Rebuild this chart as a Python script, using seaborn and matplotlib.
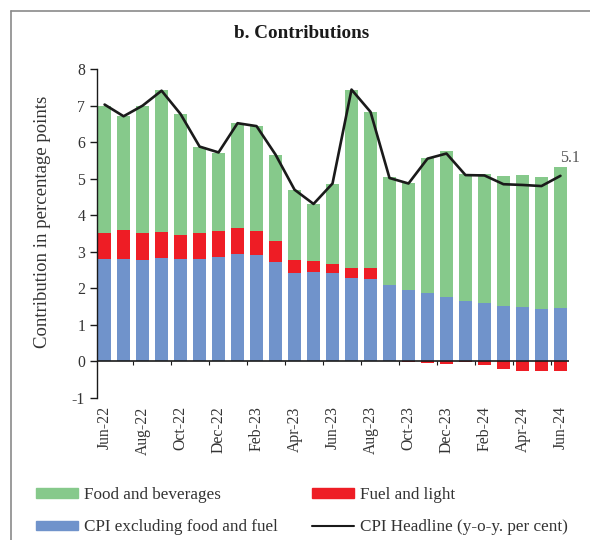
import matplotlib
matplotlib.use('Agg')
import matplotlib.pyplot as plt
from matplotlib.lines import Line2D
from matplotlib.patches import Patch
import numpy as np
import pandas as pd
import seaborn as sns

# Months shown on the x axis
months = ['Jun-22', 'Jul-22', 'Aug-22', 'Sep-22', 'Oct-22', 'Nov-22', 'Dec-22',
          'Jan-23', 'Feb-23', 'Mar-23', 'Apr-23', 'May-23', 'Jun-23', 'Jul-23',
          'Aug-23', 'Sep-23', 'Oct-23', 'Nov-23', 'Dec-23', 'Jan-24', 'Feb-24',
          'Mar-24', 'Apr-24', 'May-24', 'Jun-24']

# Contributions in percentage points
core = [2.81, 2.80, 2.77, 2.83, 2.79, 2.80, 2.86, 2.94, 2.90, 2.72, 2.42, 2.44, 2.41,
        2.28, 2.26, 2.08, 1.96, 1.88, 1.77, 1.66, 1.59, 1.52, 1.50, 1.44, 1.46]
fuel = [0.70, 0.80, 0.74, 0.70, 0.67, 0.71, 0.72, 0.71, 0.66, 0.58, 0.36, 0.32, 0.27,
        0.27, 0.30, 0.00, -0.02, -0.05, -0.06, -0.01, -0.09, -0.21, -0.27, -0.25, -0.25]
food = [3.49, 3.11, 3.49, 3.89, 3.31, 2.36, 2.12, 2.87, 2.87, 2.34, 1.92, 1.55, 2.17,
        4.89, 4.26, 2.96, 2.92, 3.70, 4.00, 3.48, 3.54, 3.56, 3.59, 3.61, 3.86]
headline = [7.03, 6.71, 7.00, 7.41, 6.77, 5.88, 5.72, 6.52, 6.44, 5.66, 4.70, 4.31, 4.87,
            7.44, 6.83, 5.02, 4.87, 5.55, 5.69, 5.10, 5.09, 4.85, 4.83, 4.80, 5.08]

df = pd.DataFrame({'month': months, 'core': core, 'fuel': fuel,
                   'food': food, 'headline': headline})
df['pos'] = np.arange(len(df))

# Stacking like Excel: positives on top of each other, negatives below zero
fuel_bottom = np.where(df['fuel'] > 0, df['core'], 0)
food_bottom = df['core'] + df['fuel'].clip(lower=0)

green = '#86C98B'
red = '#EE1D25'
blue = '#7093CB'
ink = '#1a1a1a'
txt = '#333333'

sns.set_style('white')
plt.rcParams['font.family'] = ['Liberation Serif', 'DejaVu Serif']
plt.rcParams['axes.unicode_minus'] = False

fig = plt.figure(figsize=(5.9, 5.4), dpi=100)
ax = fig.add_axes([0.1644, 0.263, 0.80, 0.609])

sns.barplot(data=df, x='month', y='core', color=blue, width=0.72,
            saturation=1, ax=ax, linewidth=0)
sns.barplot(data=df, x='month', y='fuel', color=red, width=0.72,
            saturation=1, ax=ax, linewidth=0, bottom=fuel_bottom)
sns.barplot(data=df, x='month', y='food', color=green, width=0.72,
            saturation=1, ax=ax, linewidth=0, bottom=food_bottom)
sns.lineplot(data=df, x='pos', y='headline', color=ink, linewidth=1.9, ax=ax)

ax.annotate('5.1', (df['pos'].iloc[-1], df['headline'].iloc[-1]),
            xytext=(0, 10), textcoords='offset points', fontsize=11.5, color='#555555')

# zero line with small ticks between every second month
ax.axhline(0, color=ink, linewidth=1.2)
ax.vlines(np.arange(1.5, 24, 2), -0.1, 0, color=ink, linewidth=0.8)

ax.set_xlim(-0.4, 24.45)
ax.set_ylim(-1, 8)
ax.set_yticks(range(-1, 9))
ax.set_xticks(range(0, 25, 2))
ax.set_xticklabels(months[::2], rotation=90)
ax.tick_params(axis='x', length=0, pad=6, labelsize=11.3, labelcolor=txt)
ax.tick_params(axis='y', length=5, width=1, direction='out', left=True,
               labelsize=11.3, labelcolor=txt, color=ink)
ax.set_xlabel('')
ax.set_ylabel('Contribution in percentage points', fontsize=13.5, color=txt)
ax.yaxis.set_label_coords(-0.097, 0.535)

for s in ['top', 'right', 'bottom']:
    ax.spines[s].set_visible(False)
ax.spines['left'].set_color(ink)
ax.spines['left'].set_linewidth(1)

fig.text(0.512, 1 - 33 / 540, 'b. Contributions', ha='center', va='center',
         fontsize=13.8, fontweight='bold', color=ink)

handles = [Patch(color=green, label='Food and beverages'),
           Patch(color=blue, label='CPI excluding food and fuel'),
           Patch(color=red, label='Fuel and light'),
           Line2D([0], [0], color=ink, linewidth=1.5, label='CPI Headline (y-o-y. per cent)')]
leg = fig.legend(handles=handles, ncol=2, loc='upper left', bbox_to_anchor=(36 / 590, 1 - 487 / 540),
                 frameon=False, fontsize=12.3, handlelength=2.45, handleheight=0.45,
                 handletextpad=0.35, labelspacing=0.95, columnspacing=2.0,
                 borderpad=0, borderaxespad=0)
for t in leg.get_texts():
    t.set_color(txt)

# partial frame around the panel
fig.add_artist(Line2D([11 / 590, 1], [1 - 11 / 540, 1 - 11 / 540], color='#8a8a8a', linewidth=1.2))
fig.add_artist(Line2D([11 / 590, 11 / 590], [0, 1 - 11 / 540], color='#8a8a8a', linewidth=1.2))

plt.savefig('out.png', dpi=100)
plt.close()
